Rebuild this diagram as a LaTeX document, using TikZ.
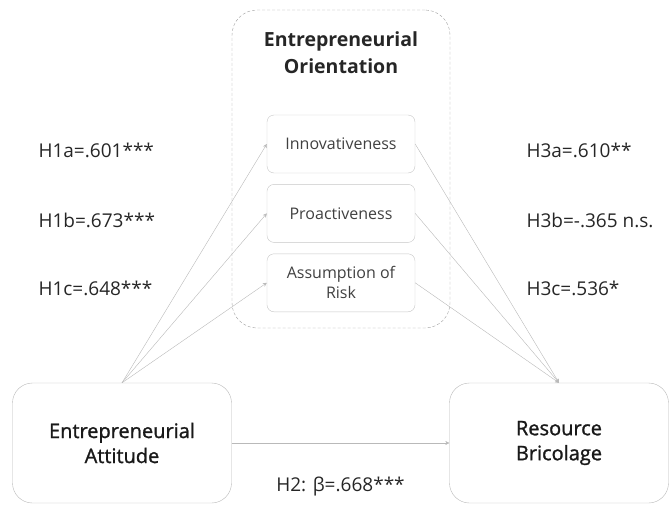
\documentclass[tikz,border=0pt]{standalone}
\usepackage{fontspec}
\setmainfont{Open Sans}
\newfontfamily\boxfont[FakeBold=1.3]{Open Sans}
\usetikzlibrary{arrows.meta, positioning}

\begin{document}
\begin{tikzpicture}[x=1pt, y=-1pt,
	% Set the default distance between nodes.
	node distance=11pt
	]
	% Define custom styles to make the code cleaner and more reusable.
	\tikzset{
		mainbox/.style={draw=gray!55, rectangle, rounded corners=20pt, minimum width=219pt, minimum height=120pt, align=center, font=\boxfont\fontsize{20}{25}\selectfont, text=black!90},
		dimbox/.style={draw=gray!45, rectangle, rounded corners=7pt, minimum width=148pt, minimum height=58pt, align=center, font=\fontsize{16}{20}\selectfont, text=black!75},
		groupbox/.style={draw=gray!75, dash pattern=on 3pt off 2pt, rounded corners=25pt, minimum width=218pt, minimum height=318pt},
		coef/.style={anchor=west, font=\fontsize{19}{23}\selectfont, text=black!85},
		line/.style={-{Stealth[length=4pt, width=4pt]}, draw=gray!55, thin} % small grey heads
	}
	\useasboundingbox (0,0) rectangle (670,514);
	
	% === NODES ===
	% The dashed group with its title and the three dimensions.
	
	\node[groupbox] (eo) at (341,169) {};
	\node[align=center, font=\bfseries\fontsize{19.5}{27}\selectfont, text=black!85] (eotitle) at (341,53) {Entrepreneurial\\Orientation};
	\node[dimbox] (innov) at (341,144) {Innovativeness};
	\node[dimbox, below=of innov] (proact) {Proactiveness};
	\node[dimbox, below=of proact] (risk) {Assumption of\\Risk};
	
	% The two main constructs at the bottom.
	\node[mainbox] (attitude) at (122,443) {Entrepreneurial\\Attitude};
	\node[mainbox] (bricolage) at (559,443) {Resource\\Bricolage};
	
	% Path coefficients.
	\node[coef] (h1a) at (35,150) {H1a=.601***};
	\node[coef] (h1b) at (35,220) {H1b=.673***};
	\node[coef] (h1c) at (35,288) {H1c=.648***};
	\node[coef] (h3a) at (523,150) {H3a=.610**};
	\node[coef] (h3b) at (523,220) {H3b=-.365 n.s.};
	\node[coef] (h3c) at (523,288) {H3c=.536*};
	
	% === CONNECTIONS ===
	% Draw the lines and arrows connecting the nodes.
	
	\draw[line] (attitude.north) -- (innov.west);
	\draw[line] (attitude.north) -- (proact.west);
	\draw[line] (attitude.north) -- (risk.west);
	\draw[line] (innov.east) -- (bricolage.north);
	\draw[line] (proact.east) -- (bricolage.north);
	\draw[line] (risk.east) -- (bricolage.north);
	\draw[line] (attitude) -- node[midway, below=30pt, coef, anchor=north] {H2: β=.668***} (bricolage);
\end{tikzpicture}
\end{document}
